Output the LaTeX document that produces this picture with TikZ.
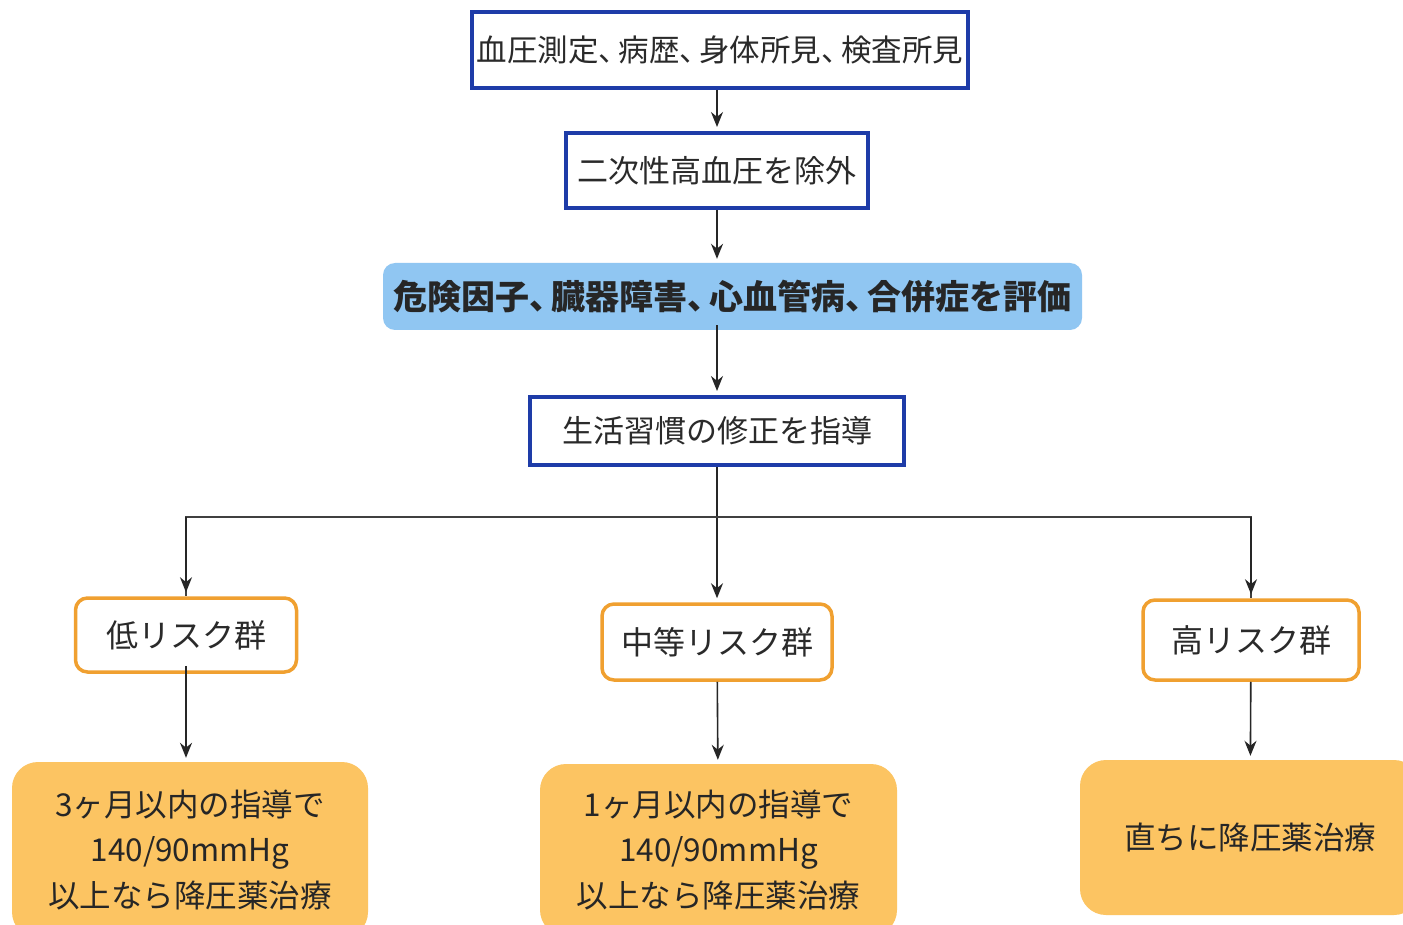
\documentclass[tikz,border=0pt]{standalone}
\usepackage{fontspec}
\setmainfont{Noto Sans CJK JP}
\usetikzlibrary{arrows.meta}
\definecolor{bluebd}{HTML}{1E3CA8}
\definecolor{bluefill}{HTML}{90C6F2}
\definecolor{orbd}{HTML}{F0A030}
\definecolor{orfill}{HTML}{FCC462}
\definecolor{txt}{HTML}{2A2A2A}
\newcommand{\tn}{、\kern-0.35em}
\begin{document}
\begin{tikzpicture}[x=1pt,y=-1pt,
  bluebox/.style={draw=bluebd,line width=4pt,fill=white,inner sep=0pt,text=txt,font=\fontsize{31}{36}\selectfont},
  evalbox/.style={fill=bluefill,rounded corners=12pt,inner sep=0pt,text=black!85,font=\fontsize{34}{40}\selectfont\bfseries},
  riskbox/.style={draw=orbd,line width=3.5pt,fill=white,rounded corners=12pt,inner sep=0pt,text=txt,font=\fontsize{32}{38}\selectfont},
  resbox/.style={fill=orfill,rounded corners=26pt,inner sep=0pt,text=black!85,align=center,font=\fontsize{31.5}{45.5}\selectfont},
  arr/.style={draw=black!85,line width=1.6pt,-{Stealth[length=15pt,width=12pt]},shorten >=4pt},
  ln/.style={draw=black!75,line width=1.8pt}]
\useasboundingbox (0,0) rectangle (1403,925);
\clip (0,0) rectangle (1403,925);
\fill[white] (0,0) rectangle (1403,925);
% top chain
\node[bluebox,font=\fontsize{30.5}{36}\selectfont,minimum width=496pt,minimum height=76pt] (b1) at (720,50) {血圧測定\tn 病歴\tn 身体所見\tn 検査所見};
\node[bluebox,minimum width=302pt,minimum height=75pt] (b2) at (717,170.5) {二次性高血圧を除外};
\node[evalbox,minimum width=699pt,minimum height=67pt] (b3) at (732.5,296.5) {危険因子\tn 臓器障害\tn 心血管病\tn 合併症を評価};
\node[bluebox,minimum width=374pt,minimum height=68pt] (b4) at (717,431) {生活習慣の修正を指導};
% risk groups
\node[riskbox,minimum width=221pt,minimum height=74pt] (low) at (186,635) {低リスク群};
\node[riskbox,minimum width=230pt,minimum height=76pt] (mid) at (717,642) {中等リスク群};
\node[riskbox,minimum width=216pt,minimum height=80pt] (high) at (1251,640) {高リスク群};
% results
\node[resbox,minimum width=356pt,minimum height=176pt] (rlow) at (190,850) {3ヶ月以内の指導で\\140/90mmHg\\以上なら降圧薬治療};
\node[resbox,minimum width=357pt,minimum height=172pt] (rmid) at (718.5,850) {1ヶ月以内の指導で\\140/90mmHg\\以上なら降圧薬治療};
\node[resbox,minimum width=340pt,minimum height=155pt,text width=323pt] (rhigh) at (1250,837.5) {直ちに降圧薬治療};
% connectors
\draw[arr] (b1.south -| b2) -- (b2.north);
\draw[arr] (b2.south) -- (b2.south |- b3.north);
\draw[arr] ([yshift=5pt]b3.south -| b4) -- (b4.north);
\coordinate (split) at (717,517);
\draw[arr] (b4) -- (mid);
\draw[ln] (split) -| (low.north);
\draw[ln] (split) -| (high.north);
\draw[arr] (split -| low.north) -- (low.north);
\draw[arr] (split -| high.north) -- (high.north);
\draw[arr] ([yshift=8pt]low.south) -- (low.south |- rlow.north);
\draw[arr] (mid) -- (rmid);
\draw[arr] (high) -- (rhigh);
\end{tikzpicture}
\end{document}
